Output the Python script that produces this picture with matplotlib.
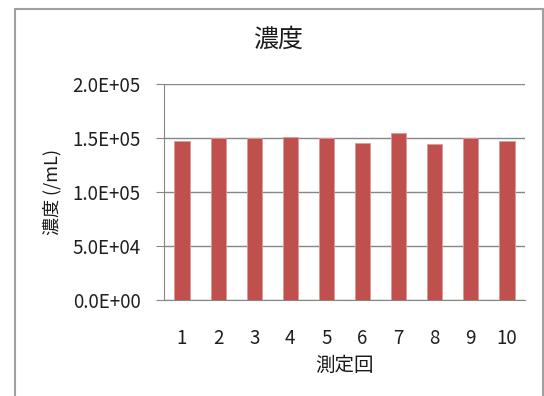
import matplotlib
matplotlib.use("Agg")
import matplotlib.pyplot as plt
from matplotlib.patches import Rectangle
from matplotlib.ticker import FuncFormatter

plt.rcParams['font.family'] = ['Noto Sans CJK JP', 'DejaVu Sans']

runs = ['1', '2', '3', '4', '5', '6', '7', '8', '9', '10']
conc = [1.469e5, 1.50e5, 1.50e5, 1.509e5, 1.50e5, 1.454e5, 1.546e5, 1.444e5, 1.50e5, 1.469e5]
yticks = [0, 5e4, 1e5, 1.5e5, 2e5]

W, H = 544, 396
fig = plt.figure(figsize=(W / 100, H / 100), dpi=100)
# chart area border (bottom runs off the picture)
fig.patches.append(Rectangle((15 / W, -0.1), (543 - 15) / W, (H - 9) / H + 0.1,
                             transform=fig.transFigure, fill=False,
                             edgecolor='#a0a0a0', linewidth=1.5))

ax = fig.add_axes([164 / W, 1 - 300 / H, (525 - 164) / W, (300 - 84) / H])
x = range(len(runs))
ax.bar(x, conc, width=0.42, color='#c0504d', edgecolor='#dc9a98', linewidth=0.6, zorder=3)

ax.set_ylim(0, 2e5)
ax.set_xlim(-0.5, len(runs) - 0.5)
ax.set_yticks(yticks)
ax.yaxis.set_major_formatter(FuncFormatter(lambda v, p: f'{v:.1E}'))
ax.set_xticks(list(x))
ax.set_xticklabels(runs)
ax.grid(axis='y', color='#868686', linewidth=1, zorder=0)

for s in ['top', 'right']:
    ax.spines[s].set_visible(False)
ax.spines['left'].set_color('#868686')
ax.spines['bottom'].set_color('#868686')
ax.tick_params(axis='y', length=6, color='#868686', labelsize=13.5, labelcolor='#1f1f1f', pad=11)
ax.tick_params(axis='x', length=0, labelsize=13.5, labelcolor='#1f1f1f', pad=20)

fig.text(278 / W, 1 - 40 / H, '濃度', fontsize=18, ha='center', va='center', color='#1a1a1a')
ax.set_xlabel('測定回', fontsize=14, color='#1a1a1a')
ax.xaxis.set_label_coords(0.5, (300 - 365) / 216)
ax.xaxis.label.set_va('center')
ax.set_ylabel('濃度 (/mL)', fontsize=13, color='#1a1a1a')
ax.yaxis.set_label_coords((52 - 164) / 361, 0.5)
ax.yaxis.label.set_va('center')

fig.savefig('out.png', dpi=100)
